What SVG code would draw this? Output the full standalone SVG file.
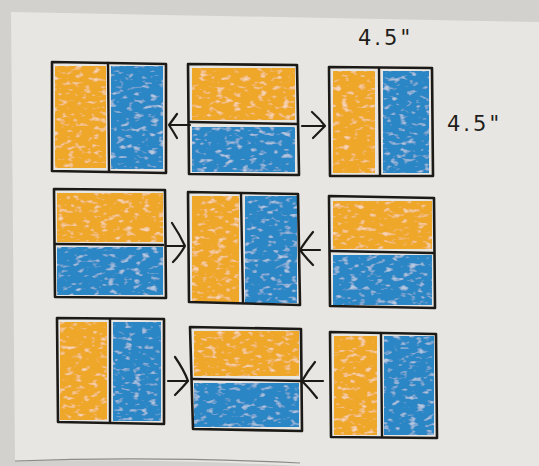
<svg xmlns="http://www.w3.org/2000/svg" width="539" height="466" viewBox="0 0 539 466">
<defs>
<style>
.o{fill:#efa72a}
.b{fill:#2b86c4}
.box{fill:none;stroke:#1c1a17;stroke-width:2.6;stroke-linejoin:round}
.div{fill:none;stroke:#1c1a17;stroke-width:2.4;stroke-linecap:round}
.arr{fill:none;stroke:#1c1a17;stroke-width:2.2;stroke-linecap:round;stroke-linejoin:round}
.lbl{font-family:"DejaVu Sans","Liberation Sans",sans-serif;font-size:21px;letter-spacing:3px;fill:#1f1d1a}
</style>
<filter id="crayon" x="0" y="0" width="1" height="1">
<feTurbulence type="fractalNoise" baseFrequency="0.12 0.22" numOctaves="2" seed="4" result="n"/>
<feColorMatrix in="n" type="matrix" values="0 0 0 0 1  0 0 0 0 1  0 0 0 0 1  0 0 0 -4 1.75" result="spots"/>
<feComponentTransfer in="spots" result="soft"><feFuncA type="linear" slope="0.45"/></feComponentTransfer>
<feComposite in="soft" in2="SourceGraphic" operator="in" result="s2"/>
<feMerge><feMergeNode in="SourceGraphic"/><feMergeNode in="s2"/></feMerge>
</filter>
</defs>
<rect x="0" y="0" width="539" height="466" fill="#d3d1cd"/>
<path d="M11 12 L539 22 L539 466 L300 466 Q150 458 15 461 Z" fill="#e8e6e2"/>
<path d="M15 461 Q150 456 300 463" fill="none" stroke="#8e8b87" stroke-width="1.2"/>

<g id="block-r1c1">
<g filter="url(#crayon)">
<rect class="o" x="55" y="66" width="51" height="102"/>
<rect class="b" x="111" y="66" width="52" height="103"/>
</g>
<path class="box" d="M52 62 L166 64 L166 173 L52 171 Z"/>
<path class="div" d="M108 63 L109 171"/>
</g>

<g id="block-r1c2">
<g filter="url(#crayon)">
<rect class="o" x="192" y="68" width="103" height="52"/>
<rect class="b" x="192" y="127" width="103" height="45"/>
</g>
<path class="box" d="M188 64 L297 65 L299 175 L189 174 Z"/>
<path class="div" d="M190 122 L297 124"/>
</g>

<g id="block-r1c3">
<g filter="url(#crayon)">
<rect class="o" x="333" y="71" width="42" height="102"/>
<rect class="b" x="383" y="71" width="46" height="102"/>
</g>
<path class="box" d="M329 67 L432 68 L433 176 L330 176 Z"/>
<path class="div" d="M379 68 L380 175"/>
</g>

<g id="block-r2c1">
<g filter="url(#crayon)">
<rect class="o" x="57" y="193" width="106" height="49"/>
<rect class="b" x="57" y="247" width="106" height="48"/>
</g>
<path class="box" d="M54 189 L165 190 L166 298 L55 297 Z"/>
<path class="div" d="M56 244 L163 245"/>
</g>

<g id="block-r2c2">
<g filter="url(#crayon)">
<rect class="o" x="192" y="196" width="47" height="106"/>
<rect class="b" x="245" y="196" width="52" height="107"/>
</g>
<path class="box" d="M188 192 L298 194 L300 305 L189 302 Z"/>
<path class="div" d="M241 194 L243 303"/>
</g>

<g id="block-r2c3">
<g filter="url(#crayon)">
<rect class="o" x="333" y="201" width="99" height="48"/>
<rect class="b" x="333" y="255" width="99" height="50"/>
</g>
<path class="box" d="M329 196 L434 198 L435 308 L330 306 Z"/>
<path class="div" d="M331 251 L433 253"/>
</g>

<g id="block-r3c1">
<g filter="url(#crayon)">
<rect class="o" x="60" y="322" width="47" height="98"/>
<rect class="b" x="113" y="322" width="48" height="99"/>
</g>
<path class="box" d="M57 318 L164 319 L164 424 L58 422 Z"/>
<path class="div" d="M110 319 L110 422"/>
</g>

<g id="block-r3c2">
<g filter="url(#crayon)">
<rect class="o" x="194" y="331" width="105" height="45"/>
<rect class="b" x="194" y="383" width="105" height="44"/>
</g>
<path class="box" d="M190 327 L301 329 L302 431 L193 429 Z"/>
<path class="div" d="M192 379 L301 381"/>
</g>

<g id="block-r3c3">
<g filter="url(#crayon)">
<rect class="o" x="334" y="336" width="43" height="99"/>
<rect class="b" x="384" y="336" width="50" height="99"/>
</g>
<path class="box" d="M330 332 L436 334 L437 438 L331 437 Z"/>
<path class="div" d="M381 334 L382 436"/>
</g>

<g id="connectors">
<path class="arr" d="M190 125 L169 125 M177 114 Q172 121 169 125 Q173 131 177 138"/>
<path class="arr" d="M302 126 L324 126 M312 112 Q320 119 325 126 Q319 132 313 138"/>
<path class="arr" d="M167 246 L185 246 M172 223 Q180 235 185 246 Q180 255 173 262"/>
<path class="arr" d="M320 250 L300 250 M313 232 Q305 242 300 250 Q306 258 313 265"/>
<path class="arr" d="M168 381 L188 381 M175 357 Q184 370 188 381 Q182 388 175 395"/>
<path class="arr" d="M323 381 L302 381 M315 362 Q307 372 302 381 Q310 389 317 398"/>
</g>

<g id="labels">
<text class="lbl" x="358" y="45">4.5"</text>
<text class="lbl" x="447" y="131">4.5"</text>
</g>
</svg>
